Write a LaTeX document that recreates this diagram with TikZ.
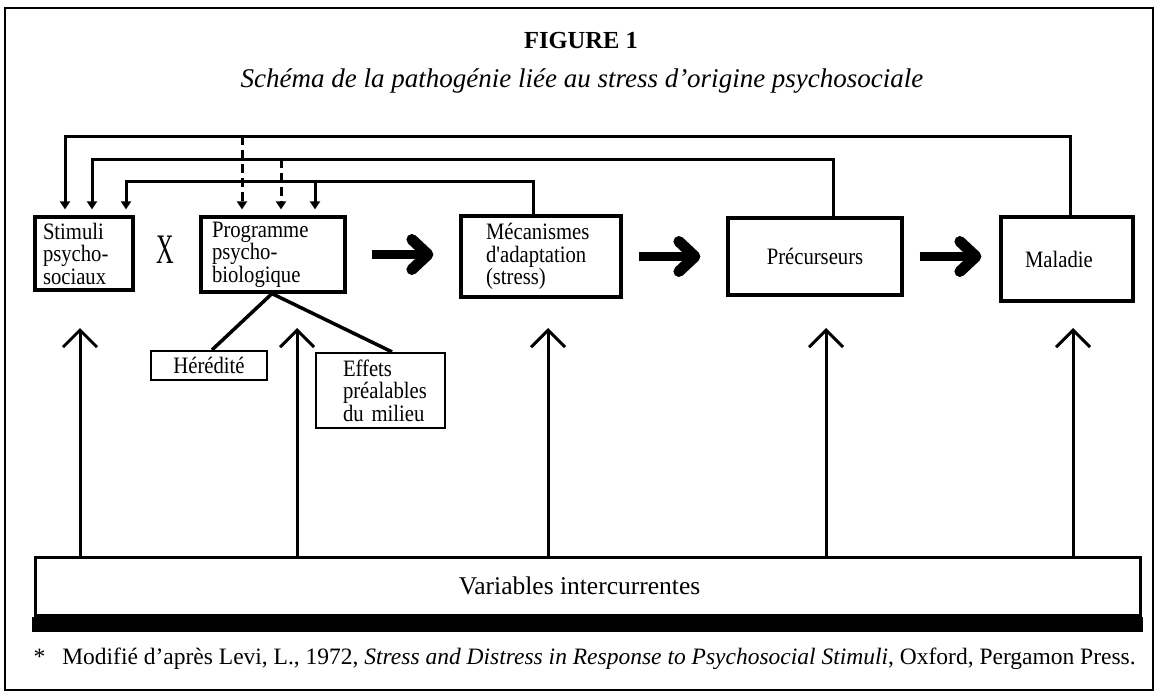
\documentclass[tikz,border=0pt]{standalone}
\usepackage{fontspec}
\setmainfont{Liberation Serif}
\newfontfamily\boxfont{Liberation Serif}[FakeStretch=0.88]
\usetikzlibrary{arrows.meta,calc}
\begin{document}
\begin{tikzpicture}[x=1pt,y=-1pt,
  box/.style={draw, line width=3.2pt, inner sep=0pt, align=left,
    font=\boxfont\fontsize{23.5}{22.5}\selectfont},
  sbox/.style={draw, line width=2.2pt, inner sep=0pt, align=left,
    font=\boxfont\fontsize{23.5}{22.5}\selectfont},
  fb/.style={line width=3pt, -{Triangle[length=8pt,width=10pt]}, shorten >=6pt},
  up/.style={line width=3pt, -{Straight Barb[length=17pt,width=34pt]}},
  big/.style={line width=8.5pt, -{Straight Barb[length=16pt,width=30pt,line width=11pt,round]}},
  link/.style={line width=3.5pt}]
\useasboundingbox (0,0) rectangle (1164,693);
\draw[line width=2.2pt] (5,8) rectangle (1153,690);

\node[font=\bfseries\fontsize{24.5}{24.5}\selectfont] (title) at (581,41) {FIGURE 1};
\node[font=\itshape\fontsize{27}{27}\selectfont] (sub) at (582,81)
  {Schéma de la pathogénie liée au stress d'origine psychosociale};

% main boxes
\node[box, minimum width=98, minimum height=73, inner xsep=8, text width=82]
  (stim) at (84,253.5) {Stimuli\\psycho-\\sociaux};
\node[font=\fontsize{42}{42}\selectfont] (x) at (165,250) {\scalebox{0.58}[1]{X}};
\node[box, minimum width=144, minimum height=75, inner xsep=11, text width=122]
  (prog) at (273,254.5) {Programme\\psycho-\\biologique};
\node[box, minimum width=160, minimum height=81, inner xsep=25, text width=110]
  (mec) at (541,256.5) {Mécanismes\\d'adaptation\\(stress)};
\node[box, align=center, minimum width=174, minimum height=77]
  (prec) at (815,256.5) {Précurseurs};
\node[box, minimum width=132, minimum height=84, inner xsep=24, text width=84]
  (mal) at (1067,259) {Maladie};

% sub boxes
\node[sbox, align=center, minimum width=116, minimum height=29]
  (her) at (209,365.5) {Hérédité};
\node[sbox, minimum width=129, minimum height=75, inner xsep=27, text width=75]
  (eff) at (380.5,390.5) {\mbox{Effets}\\\mbox{préalables}\\\mbox{du milieu}};

\draw[link] ([xshift=-1pt]prog.south) -- ([xshift=3pt]her.north);
\draw[link] ([xshift=-1pt]prog.south) -- ([xshift=11.5pt]eff.north);

% big arrows
\draw[big, shorten >=26pt] ([xshift=25pt]prog.east) -- (prog.east -| mec.west);
\draw[big, shorten >=26pt] ([xshift=16pt]mec.east) -- (mec.east -| prec.west);
\draw[big, shorten >=18pt] ([xshift=16pt]prec.east) -- (prec.east -| mal.west);

% feedback lines
\coordinate (la) at (0,136);
\coordinate (lb) at (0,159);
\coordinate (lc) at (0,181);
\coordinate (da) at (242,136);
\coordinate (db) at (281,159);
\coordinate (dc) at (315,181);
\draw[fb] ([xshift=3pt]mal.north) -- ([xshift=3pt]mal.north |- la) -| ([xshift=-19pt]stim.north);
\draw[fb] ([xshift=18pt]prec.north) -- ([xshift=18pt]prec.north |- lb) -| ([xshift=8pt]stim.north);
\draw[fb] ([xshift=-8pt]mec.north) -- ([xshift=-8pt]mec.north |- lc) -| ([xshift=42pt]stim.north);
\draw[fb, dash pattern=on 9pt off 5pt] (da) -- (da |- prog.north);
\draw[fb, dash pattern=on 9pt off 5pt] (db) -- (db |- prog.north);
\draw[fb] (dc) -- (dc |- prog.north);

% variables box
\node[draw, line width=3pt, minimum width=1105, minimum height=58,
  font=\fontsize{25.5}{25.5}\selectfont] (var) at (587.5,586) {\hspace*{-16pt}Variables intercurrentes};
\fill ([xshift=-1.5pt]var.south west) rectangle ($(var.south east)+(1.5,15)$);

\coordinate (u1) at (80,328);
\coordinate (u2) at (297,328);
\coordinate (u3) at (548,328);
\coordinate (u4) at (826,328);
\coordinate (u5) at (1073,328);
\foreach \u in {u1,u2,u3,u4,u5}
  \draw[up] (var.north -| \u) -- (\u);

\node[anchor=base west, font=\fontsize{23.5}{23.5}\selectfont] (fn) at (30,664)
  {*\hspace{17pt}Modifié d'après Levi, L., 1972, \textit{Stress and Distress in Response to Psychosocial Stimuli}, Oxford, Pergamon Press.};
\end{tikzpicture}
\end{document}
